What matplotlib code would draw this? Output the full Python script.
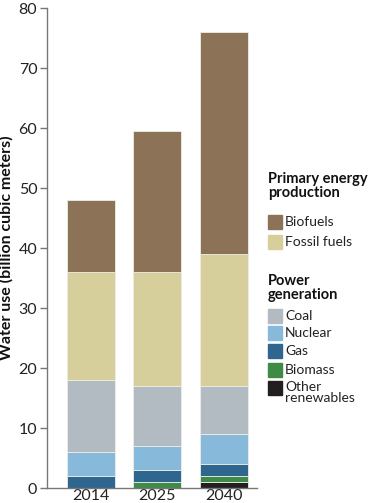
import matplotlib
matplotlib.use("Agg")
import matplotlib.pyplot as plt
from matplotlib.patches import Rectangle
import numpy as np

years = ["2014", "2025", "2040"]
series_names = ["Other renewables", "Biomass", "Gas", "Nuclear", "Coal", "Fossil fuels", "Biofuels"]
other_renewables = [0, 0, 1]
biomass = [0, 1, 1]
gas = [2, 2, 2]
nuclear = [4, 4, 5]
coal = [12, 10, 8]
fossil_fuels = [18, 19, 22]
biofuels = [12, 23.5, 37]

colors = {
    "Other renewables": "#231F20",
    "Biomass": "#3F8A45",
    "Gas": "#2E6690",
    "Nuclear": "#87BADA",
    "Coal": "#B3BBC2",
    "Fossil fuels": "#D6CF9C",
    "Biofuels": "#8C7358",
}

values = [other_renewables, biomass, gas, nuclear, coal, fossil_fuels, biofuels]

plt.rcParams['font.family'] = ['Lato', 'DejaVu Sans']
W, H = 370, 503
fig = plt.figure(figsize=(W / 100, H / 100), dpi=100)
ax = fig.add_axes([47 / W, 15 / H, 210 / W, 480 / H])

x = np.arange(len(years))
bottom = np.zeros(len(years))
for name, vals in zip(series_names, values):
    v = np.array(vals, dtype=float)
    ax.bar(x, v, bottom=bottom, width=0.72, color=colors[name],
           edgecolor="#EDEDE6", linewidth=0.6, zorder=2)
    bottom += v

ax.set_xlim(-0.66, 2.5)
ax.set_ylim(0, 80)
ax.set_xticks(x)
ax.set_xticklabels(years)
ax.set_yticks(np.arange(0, 81, 10))
for s in ["top", "right"]:
    ax.spines[s].set_visible(False)
for s in ["left", "bottom"]:
    ax.spines[s].set_color("#777777")
    ax.spines[s].set_linewidth(1)
ax.tick_params(axis="y", length=5, width=1, color="#777777", labelsize=11.5, labelcolor="#222222", pad=2)
ax.tick_params(axis="x", length=0, labelsize=11.5, labelcolor="#222222", pad=1)
ax.set_ylabel("Water use (billion cubic meters)", fontsize=11.5, fontweight="bold", color="#111111")
ax.yaxis.set_label_coords(-0.16, 0.5)

def fx(px):
    return px / W

def fy(py):
    return 1 - py / H

# Legend
lx = 268
fig.text(fx(lx), fy(186), "Primary energy\nproduction", fontsize=10.5, fontweight="bold",
         va="center", ha="left", color="#111111", linespacing=1.0)
groups = [
    ("Biofuels", 222), ("Fossil fuels", 242),
]
groups2 = [
    ("Coal", 316), ("Nuclear", 333), ("Gas", 351), ("Biomass", 370),
]
fig.text(fx(lx), fy(288), "Power\ngeneration", fontsize=10.5, fontweight="bold",
         va="center", ha="left", color="#111111", linespacing=1.0)
for name, yc in groups + groups2:
    fig.patches.append(Rectangle((fx(lx), fy(yc + 7)), 14 / W, 14 / H,
                                 transform=fig.transFigure, color=colors[name]))
    fig.text(fx(lx + 17), fy(yc), name, fontsize=10, va="center", ha="left", color="#222222")
yc = 388
fig.patches.append(Rectangle((fx(lx), fy(yc + 7)), 14 / W, 14 / H,
                             transform=fig.transFigure, color=colors["Other renewables"]))
fig.text(fx(lx + 17), fy(yc - 7), "Other\nrenewables", fontsize=10, va="top", ha="left",
         color="#222222", linespacing=0.85)

fig.savefig("out.png", dpi=100)
